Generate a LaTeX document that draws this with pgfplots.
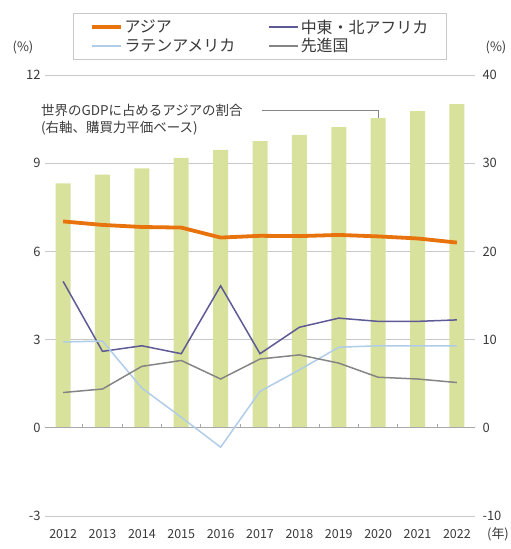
\documentclass[border=0pt]{standalone}
\usepackage{fontspec}
\setmainfont{Noto Sans CJK JP}
\usepackage{pgfplots}
\pgfplotsset{compat=1.18}
\definecolor{asia}{HTML}{E8720C}
\definecolor{mena}{HTML}{5E5A96}
\definecolor{latam}{HTML}{AFCDE8}
\definecolor{adv}{HTML}{858585}
\definecolor{barc}{HTML}{D9E29C}
\definecolor{grd}{HTML}{C8C8C8}
\definecolor{zer}{HTML}{A8A8A8}
\definecolor{txt}{HTML}{3A3A3A}
\begin{document}
\begin{tikzpicture}
\path[use as bounding box] (0bp,0bp) rectangle (511bp,549bp);
% bars: right axis
\begin{axis}[
  at={(45bp,33bp)}, anchor=south west, scale only axis,
  width=430bp, height=441bp,
  xmin=-0.46, xmax=10.46, ymin=-10, ymax=40,
  axis x line=none,
  axis y line*=right, y axis line style={draw=none},
  ytick={-10,0,10,20,30,40}, ytick style={draw=none},
  ymajorgrids, grid style={grd, line width=0.9bp},
  yticklabel style={font=\fontsize{13}{13}\selectfont, text=txt, xshift=4bp},
  /pgf/number format/assume math mode=true,
]
\addplot[ybar, bar width=15bp, fill=barc, draw=none] coordinates {
(0,27.7) (1,28.7) (2,29.4) (3,30.6) (4,31.5) (5,32.5)
(6,33.2) (7,34.1) (8,35.1) (9,35.9) (10,36.7)};
\end{axis}
% lines: left axis
\begin{axis}[
  at={(45bp,33bp)}, anchor=south west, scale only axis,
  width=430bp, height=441bp,
  xmin=-0.46, xmax=10.46, ymin=-3, ymax=12,
  axis y line*=left, y axis line style={draw=none},
  ytick={-3,0,3,6,9,12}, ytick style={draw=none},
  axis x line*=bottom, x axis line style={draw=none},
  xtick={0,...,10}, xtick style={draw=none},
  xticklabels={2012,2013,2014,2015,2016,2017,2018,2019,2020,2021,2022},
  yticklabel style={font=\fontsize{13}{13}\selectfont, text=txt, xshift=-1bp},
  xticklabel style={font=\fontsize{12.5}{12.5}\selectfont, text=txt, yshift=-10bp},
  /pgf/number format/assume math mode=true,
  legend columns=2,
  legend cell align=left,
  legend image code/.code={\draw[#1] (0bp,0bp) -- (29bp,0bp);},
  legend style={at={(0.5,1.14)}, anchor=north, draw=grd, line width=0.8bp,
    font=\fontsize{16}{16}\selectfont, text=txt, inner xsep=16.5bp, inner ysep=4bp,
    /tikz/every even column/.append style={column sep=31bp}},
]
\draw[zer, line width=1.3bp] (axis cs:-0.46,0) -- (axis cs:10.46,0);
\pgfplotsinvokeforeach{-0.46,0.5,1.5,2.5,3.5,4.5,5.5,6.5,7.5,8.5,9.5,10.46}
  {\draw[zer, line width=1bp] (axis cs:#1,0) -- ++(0bp,4bp);}
\addplot[asia, line width=3.8bp] coordinates {
(0,7.02) (1,6.9) (2,6.83) (3,6.81) (4,6.47) (5,6.53) (6,6.52) (7,6.56) (8,6.51) (9,6.44) (10,6.3)};
\addlegendentry{アジア}
\addplot[mena, line width=1.5bp] coordinates {
(0,4.98) (1,2.6) (2,2.79) (3,2.52) (4,4.83) (5,2.52) (6,3.42) (7,3.73) (8,3.62) (9,3.62) (10,3.67)};
\addlegendentry{中東・北アフリカ}
\addplot[latam, line width=1.5bp] coordinates {
(0,2.92) (1,2.95) (2,1.35) (3,0.36) (4,-0.66) (5,1.24) (6,1.97) (7,2.74) (8,2.79) (9,2.79) (10,2.79)};
\addlegendentry{ラテンアメリカ}
\addplot[adv, line width=1.5bp] coordinates {
(0,1.2) (1,1.32) (2,2.09) (3,2.29) (4,1.66) (5,2.34) (6,2.48) (7,2.2) (8,1.72) (9,1.66) (10,1.54)};
\addlegendentry{先進国}
\end{axis}
\node[anchor=west, align=left, font=\fontsize{13.5}{17}\selectfont, text=txt, inner sep=0pt] at (41bp,429bp) {世界のGDPに占めるアジアの割合\\(右軸、購買力平価ベース)};
\draw[adv, line width=0.7bp] (262bp,438.5bp) -- (378bp,438.5bp) -- (378bp,431bp);
\node[font=\fontsize{13}{13}\selectfont, text=txt] at (23bp,502bp) {(\%)};
\node[font=\fontsize{13}{13}\selectfont, text=txt] at (496bp,502bp) {(\%)};
\node[font=\fontsize{13}{13}\selectfont, text=txt] at (498bp,15bp) {(年)};
\end{tikzpicture}
\end{document}
